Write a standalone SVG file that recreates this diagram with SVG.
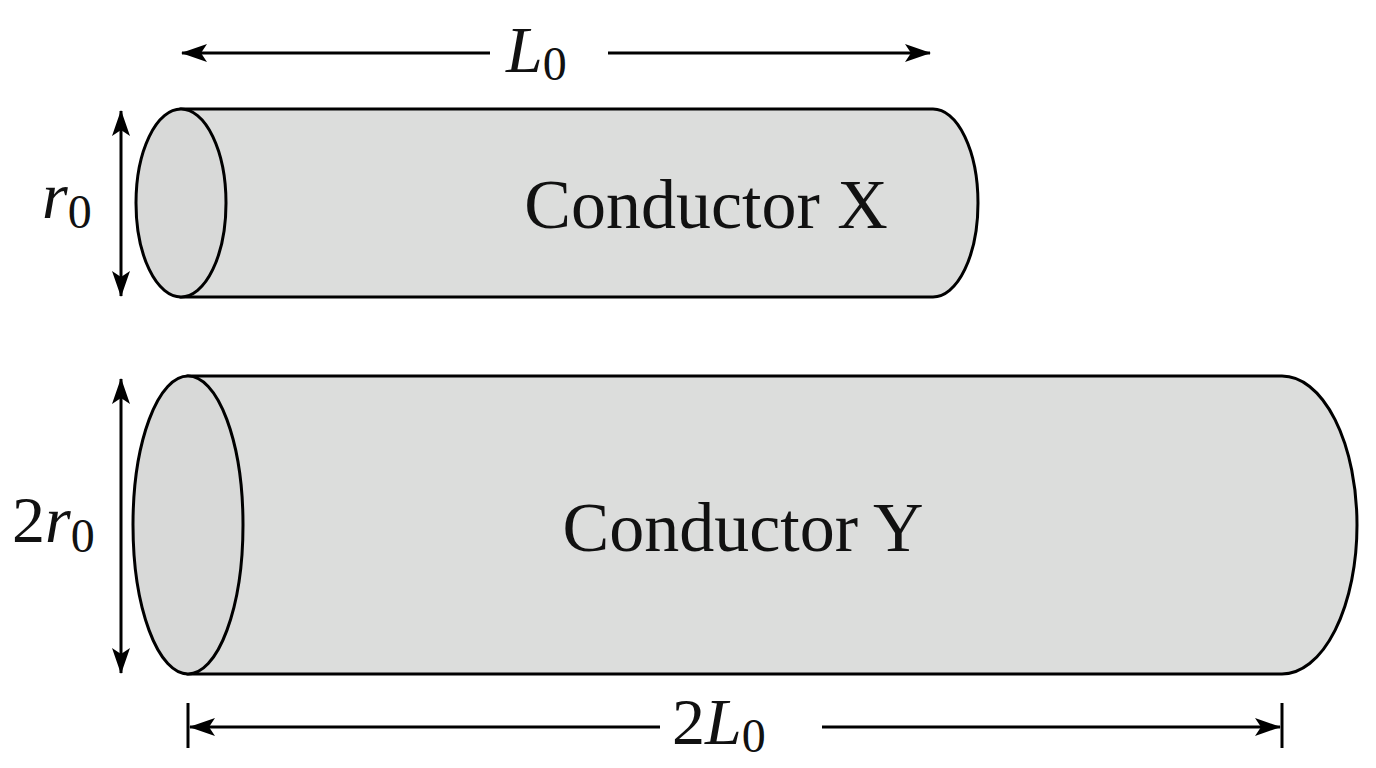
<svg xmlns="http://www.w3.org/2000/svg" width="1376" height="768" viewBox="0 0 1376 768">
<style>
.body{fill:#dcdddc;stroke:#000;stroke-width:3}
.end{fill:#d8d9d8;stroke:#000;stroke-width:3}
.dim{stroke:#000;stroke-width:3;fill:none}
.lbl{font-family:'Liberation Serif','DejaVu Serif',serif;font-size:70px;fill:#111}
.m{font-family:'Liberation Serif','DejaVu Serif',serif;font-style:italic;font-size:66px;fill:#111}
.s{font-style:normal;font-size:48px}
</style>
<defs>
<marker id="ah" viewBox="0 0 26 18" refX="25" refY="9" markerWidth="26" markerHeight="18" markerUnits="userSpaceOnUse" orient="auto-start-reverse"><path d="M0,0 L26,9 L0,18 L6,9 Z" fill="#000"/></marker>
</defs>
<rect width="1376" height="768" fill="#fff"/>
<g id="conductorX">
<path class="body" d="M181,109 H933 A45,94 0 0 1 933,297 H181 Z"/>
<ellipse class="end" cx="181" cy="203" rx="45" ry="94"/>
<text class="lbl" x="706" y="228" text-anchor="middle">Conductor X</text>
</g>
<g id="conductorY">
<path class="body" d="M188,376 H1282 A75,149 0 0 1 1282,674 H188 Z"/>
<ellipse class="end" cx="188" cy="525" rx="55" ry="149"/>
<text class="lbl" x="743" y="551" text-anchor="middle">Conductor Y</text>
</g>
<g id="connectors">
<line class="dim" x1="182" y1="53" x2="490" y2="53" marker-start="url(#ah)"/>
<line class="dim" x1="608" y1="53" x2="930" y2="53" marker-end="url(#ah)"/>
<line class="dim" x1="121" y1="111" x2="121" y2="296" marker-start="url(#ah)" marker-end="url(#ah)"/>
<line class="dim" x1="121" y1="379" x2="121" y2="673" marker-start="url(#ah)" marker-end="url(#ah)"/>
<line class="dim" x1="188" y1="703" x2="188" y2="748"/>
<line class="dim" x1="1282" y1="703" x2="1282" y2="748"/>
<line class="dim" x1="190" y1="727" x2="660" y2="727" marker-start="url(#ah)"/>
<line class="dim" x1="822" y1="727" x2="1280" y2="727" marker-end="url(#ah)"/>
</g>
<g id="labels">
<text class="m" x="506" y="72">L<tspan class="s" dy="8">0</tspan></text>
<text class="m" x="42" y="218">r<tspan class="s" dy="10">0</tspan></text>
<text class="m" x="12" y="542"><tspan font-style="normal">2</tspan>r<tspan class="s" dy="10">0</tspan></text>
<text class="m" x="672" y="744"><tspan font-style="normal">2</tspan>L<tspan class="s" dy="8">0</tspan></text>
</g>
</svg>
